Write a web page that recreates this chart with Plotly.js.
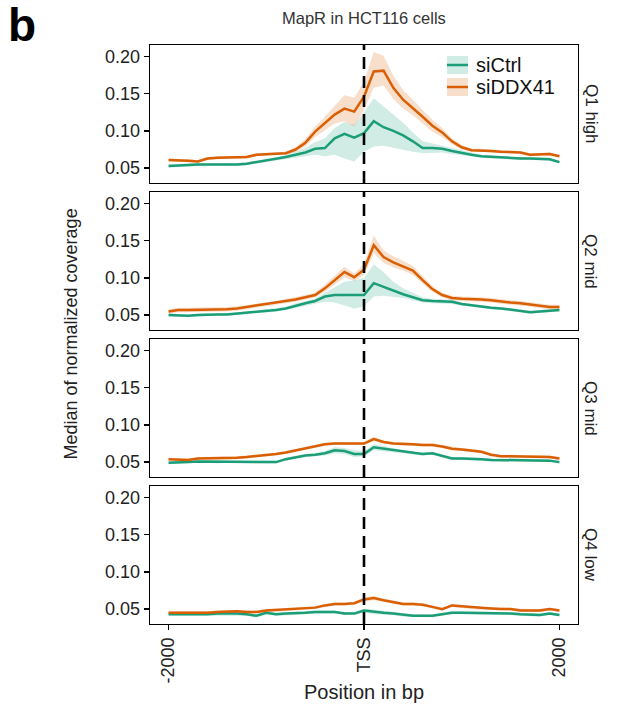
<!DOCTYPE html>
<html><head><meta charset="utf-8">
<script src="https://cdn.plot.ly/plotly-3.0.1.min.js"></script>
<style>html,body{margin:0;padding:0;background:#fff}</style>
</head><body><div id="chart" style="width:620px;height:711px"></div>
<script>
const positions = [-2000,-1900,-1800,-1700,-1600,-1500,-1400,-1300,-1200,-1100,-1000,-900,-800,-700,-600,-500,-400,-300,-200,-100,0,100,200,300,400,500,600,700,800,900,1000,1100,1200,1300,1400,1500,1600,1700,1800,1900,2000];
const panelLabels = ["Q1 high","Q2 mid","Q3 mid","Q4 low"];
const seriesNames = ["siCtrl","siDDX41"];
const xTickVals = [-2000,0,2000];
const xTickText = ["-2000","TSS","2000"];
const yTickVals = [0.05,0.10,0.15,0.20];

// Q1 high
const q1CtrlMean = [0.053,0.054,0.054,0.055,0.055,0.055,0.054,0.055,0.056,0.058,0.060,0.062,0.065,0.068,0.071,0.076,0.077,0.090,0.096,0.091,0.097,0.113,0.105,0.100,0.094,0.086,0.077,0.077,0.076,0.073,0.070,0.068,0.066,0.065,0.064,0.063,0.063,0.063,0.062,0.062,0.058];
const q1CtrlLow  = [0.051,0.052,0.052,0.053,0.053,0.053,0.052,0.053,0.054,0.056,0.058,0.060,0.062,0.064,0.066,0.068,0.066,0.068,0.063,0.059,0.072,0.079,0.080,0.077,0.074,0.072,0.070,0.071,0.071,0.069,0.067,0.065,0.064,0.063,0.062,0.061,0.061,0.061,0.060,0.060,0.056];
const q1CtrlHigh = [0.055,0.056,0.056,0.057,0.057,0.057,0.056,0.057,0.058,0.060,0.062,0.064,0.068,0.072,0.077,0.085,0.090,0.104,0.112,0.108,0.125,0.144,0.133,0.121,0.111,0.098,0.086,0.083,0.080,0.077,0.073,0.071,0.068,0.067,0.066,0.065,0.065,0.065,0.064,0.064,0.060];
const q1DdxMean  = [0.061,0.061,0.060,0.059,0.063,0.064,0.064,0.064,0.065,0.068,0.069,0.070,0.070,0.075,0.084,0.099,0.110,0.122,0.130,0.126,0.146,0.180,0.181,0.158,0.142,0.131,0.119,0.107,0.098,0.086,0.078,0.074,0.074,0.073,0.072,0.072,0.071,0.068,0.068,0.069,0.066];
const q1DdxLow   = [0.059,0.059,0.058,0.057,0.061,0.062,0.062,0.062,0.063,0.066,0.067,0.068,0.068,0.072,0.079,0.092,0.101,0.110,0.113,0.106,0.128,0.158,0.161,0.143,0.130,0.121,0.110,0.099,0.092,0.082,0.075,0.072,0.072,0.071,0.070,0.070,0.069,0.066,0.066,0.067,0.064];
const q1DdxHigh  = [0.063,0.063,0.062,0.061,0.065,0.066,0.066,0.066,0.067,0.070,0.071,0.072,0.072,0.078,0.089,0.106,0.119,0.134,0.148,0.145,0.166,0.206,0.201,0.174,0.155,0.142,0.128,0.115,0.104,0.090,0.081,0.076,0.076,0.075,0.074,0.074,0.073,0.070,0.070,0.071,0.068];

// Q2 mid
const q2CtrlMean = [0.050,0.049,0.049,0.050,0.051,0.051,0.051,0.052,0.053,0.054,0.056,0.057,0.059,0.063,0.066,0.069,0.075,0.077,0.077,0.077,0.077,0.093,0.088,0.082,0.078,0.074,0.070,0.069,0.069,0.068,0.065,0.063,0.061,0.060,0.059,0.057,0.055,0.054,0.055,0.056,0.057];
const q2CtrlLow  = [0.048,0.047,0.047,0.048,0.049,0.049,0.049,0.050,0.051,0.052,0.054,0.055,0.057,0.060,0.063,0.066,0.068,0.067,0.063,0.059,0.062,0.075,0.076,0.075,0.073,0.070,0.067,0.066,0.066,0.065,0.063,0.061,0.059,0.058,0.057,0.055,0.053,0.052,0.053,0.054,0.055];
const q2CtrlHigh = [0.052,0.051,0.051,0.052,0.053,0.053,0.053,0.054,0.055,0.056,0.058,0.059,0.061,0.066,0.069,0.072,0.080,0.088,0.095,0.097,0.100,0.118,0.108,0.095,0.086,0.080,0.074,0.072,0.072,0.071,0.067,0.065,0.063,0.062,0.061,0.059,0.057,0.056,0.057,0.058,0.059];
const q2DdxMean  = [0.055,0.057,0.057,0.057,0.057,0.057,0.058,0.059,0.061,0.062,0.064,0.066,0.069,0.071,0.074,0.077,0.086,0.097,0.108,0.101,0.111,0.144,0.128,0.121,0.116,0.110,0.097,0.085,0.077,0.073,0.072,0.072,0.071,0.070,0.068,0.067,0.066,0.064,0.063,0.061,0.061];
const q2DdxLow   = [0.052,0.054,0.054,0.054,0.054,0.054,0.055,0.056,0.058,0.059,0.061,0.063,0.066,0.068,0.071,0.074,0.081,0.091,0.101,0.096,0.104,0.133,0.120,0.114,0.110,0.104,0.092,0.081,0.074,0.070,0.069,0.069,0.068,0.067,0.065,0.064,0.063,0.061,0.060,0.058,0.058];
const q2DdxHigh  = [0.058,0.060,0.060,0.060,0.060,0.060,0.061,0.062,0.064,0.065,0.067,0.069,0.072,0.074,0.077,0.080,0.091,0.103,0.115,0.106,0.119,0.157,0.137,0.129,0.123,0.116,0.103,0.089,0.080,0.076,0.075,0.075,0.074,0.073,0.071,0.070,0.069,0.067,0.066,0.064,0.064];

// Q3 mid
const q3CtrlMean = [0.049,0.050,0.050,0.051,0.051,0.050,0.051,0.051,0.051,0.051,0.051,0.050,0.054,0.057,0.059,0.060,0.062,0.066,0.065,0.061,0.061,0.070,0.068,0.066,0.064,0.062,0.061,0.062,0.058,0.055,0.055,0.055,0.054,0.053,0.053,0.052,0.052,0.052,0.052,0.052,0.050];
const q3CtrlLow  = [0.047,0.048,0.048,0.049,0.049,0.048,0.049,0.049,0.049,0.049,0.049,0.048,0.052,0.055,0.057,0.058,0.059,0.062,0.061,0.057,0.058,0.066,0.065,0.063,0.062,0.060,0.059,0.060,0.056,0.053,0.053,0.053,0.052,0.051,0.051,0.050,0.050,0.050,0.050,0.050,0.048];
const q3CtrlHigh = [0.051,0.052,0.052,0.053,0.053,0.052,0.053,0.053,0.053,0.053,0.053,0.052,0.056,0.059,0.061,0.062,0.065,0.070,0.069,0.066,0.065,0.074,0.071,0.069,0.066,0.064,0.063,0.064,0.060,0.057,0.057,0.057,0.056,0.055,0.055,0.054,0.054,0.054,0.054,0.054,0.052];
const q3DdxMean  = [0.054,0.053,0.053,0.055,0.055,0.055,0.055,0.056,0.057,0.058,0.059,0.061,0.063,0.066,0.068,0.071,0.074,0.075,0.075,0.075,0.075,0.081,0.077,0.075,0.074,0.074,0.073,0.073,0.071,0.068,0.067,0.066,0.064,0.060,0.058,0.058,0.058,0.058,0.057,0.057,0.055];
const q3DdxLow   = [0.052,0.051,0.051,0.053,0.053,0.053,0.053,0.054,0.055,0.056,0.057,0.059,0.061,0.064,0.066,0.069,0.072,0.073,0.073,0.073,0.073,0.078,0.075,0.073,0.072,0.072,0.071,0.071,0.069,0.066,0.065,0.064,0.062,0.058,0.056,0.056,0.056,0.056,0.055,0.055,0.053];
const q3DdxHigh  = [0.056,0.055,0.055,0.057,0.057,0.057,0.057,0.058,0.059,0.060,0.061,0.063,0.065,0.068,0.070,0.073,0.076,0.077,0.077,0.077,0.077,0.084,0.079,0.077,0.076,0.076,0.075,0.075,0.073,0.070,0.069,0.068,0.066,0.062,0.060,0.060,0.060,0.060,0.059,0.059,0.057];

// Q4 low
const q4CtrlMean = [0.043,0.043,0.043,0.043,0.043,0.044,0.044,0.044,0.043,0.041,0.045,0.043,0.044,0.044,0.045,0.046,0.046,0.046,0.044,0.044,0.048,0.046,0.045,0.044,0.042,0.041,0.041,0.041,0.043,0.045,0.045,0.045,0.044,0.045,0.045,0.044,0.043,0.042,0.042,0.044,0.042];
const q4CtrlLow  = [0.041,0.041,0.041,0.041,0.041,0.042,0.042,0.042,0.041,0.039,0.043,0.041,0.042,0.042,0.043,0.044,0.044,0.044,0.042,0.042,0.045,0.043,0.043,0.042,0.040,0.039,0.039,0.039,0.041,0.043,0.043,0.043,0.042,0.043,0.043,0.042,0.041,0.040,0.040,0.042,0.040];
const q4CtrlHigh = [0.045,0.045,0.045,0.045,0.045,0.046,0.046,0.046,0.045,0.043,0.047,0.045,0.046,0.046,0.047,0.048,0.048,0.048,0.046,0.046,0.051,0.049,0.047,0.046,0.044,0.043,0.043,0.043,0.045,0.047,0.047,0.047,0.046,0.047,0.047,0.046,0.045,0.044,0.044,0.046,0.044];
const q4DdxMean  = [0.045,0.045,0.044,0.045,0.045,0.046,0.047,0.047,0.046,0.046,0.048,0.049,0.049,0.050,0.051,0.052,0.055,0.057,0.057,0.058,0.063,0.065,0.062,0.059,0.057,0.057,0.056,0.053,0.050,0.055,0.054,0.052,0.051,0.051,0.050,0.050,0.048,0.048,0.048,0.050,0.048];
const q4DdxLow   = [0.043,0.043,0.042,0.043,0.043,0.044,0.045,0.045,0.044,0.044,0.046,0.047,0.047,0.048,0.049,0.050,0.053,0.055,0.055,0.056,0.060,0.062,0.060,0.057,0.055,0.055,0.054,0.051,0.048,0.053,0.052,0.050,0.049,0.049,0.048,0.048,0.046,0.046,0.046,0.048,0.046];
const q4DdxHigh  = [0.047,0.047,0.046,0.047,0.047,0.048,0.049,0.049,0.048,0.048,0.050,0.051,0.051,0.052,0.053,0.054,0.057,0.059,0.059,0.060,0.066,0.068,0.064,0.061,0.059,0.059,0.058,0.055,0.052,0.057,0.056,0.054,0.053,0.053,0.052,0.052,0.050,0.050,0.050,0.052,0.050];

const panels = [
  {ctrl:[q1CtrlMean,q1CtrlLow,q1CtrlHigh], ddx:[q1DdxMean,q1DdxLow,q1DdxHigh]},
  {ctrl:[q2CtrlMean,q2CtrlLow,q2CtrlHigh], ddx:[q2DdxMean,q2DdxLow,q2DdxHigh]},
  {ctrl:[q3CtrlMean,q3CtrlLow,q3CtrlHigh], ddx:[q3DdxMean,q3DdxLow,q3DdxHigh]},
  {ctrl:[q4CtrlMean,q4CtrlLow,q4CtrlHigh], ddx:[q4DdxMean,q4DdxLow,q4DdxHigh]}
];

const colors = ["#1B9E77","#D95F02"];
const fills = ["rgba(27,158,119,0.2)","rgba(217,95,2,0.2)"];
const FONT = "Liberation Sans, Arial, Helvetica, sans-serif";

// layout geometry (pixels)
const W=620,H=711, L=150,R=42,T=45,B=87;
const plotH = H-T-B, plotW = W-L-R;
const panH = 138, gap = (plotH-4*panH)/3;

const traces = [];
const layout = {
  width:W, height:H, margin:{l:L,r:R,t:T,b:B},
  paper_bgcolor:"#fff", plot_bgcolor:"#fff",
  showlegend:false, font:{family:FONT, color:"#222"},
  shapes:[], annotations:[]
};

panels.forEach((p,i)=>{
  const k = i+1;
  const xa = k===1?"x":"x"+k, ya = k===1?"y":"y"+k;
  const topPx = i*(panH+gap);
  const d1 = 1 - topPx/plotH, d0 = 1 - (topPx+panH)/plotH;
  [p.ctrl,p.ddx].forEach((s,j)=>{
    traces.push({x:positions,y:s[1],xaxis:xa,yaxis:ya,mode:"lines",line:{width:0,color:fills[j]},hoverinfo:"skip"});
    traces.push({x:positions,y:s[2],xaxis:xa,yaxis:ya,mode:"lines",fill:"tonexty",fillcolor:fills[j],line:{width:0,color:fills[j]},hoverinfo:"skip"});
  });
  [p.ctrl,p.ddx].forEach((s,j)=>{
    traces.push({x:positions,y:s[0],xaxis:xa,yaxis:ya,mode:"lines",name:seriesNames[j],line:{width:2.5,color:colors[j]}});
  });
  const last = k===4;
  layout["xaxis"+(k===1?"":k)] = {
    anchor:ya, range:[-2190,2190], showgrid:false, zeroline:false,
    showline:true, mirror:true, linecolor:"#000", linewidth:1.3,
    tickvals:xTickVals, ticktext:xTickText, showticklabels:last,
    ticks:last?"outside":"", ticklen:5, tickwidth:1.3, tickcolor:"#000",
    tickangle:-90, tickfont:{size:18,color:"#222",family:FONT}
  };
  layout["yaxis"+(k===1?"":k)] = {
    anchor:xa, domain:[d0,d1], range:[0.030,0.2155], showgrid:false, zeroline:false,
    showline:true, mirror:true, linecolor:"#000", linewidth:1.3,
    tickvals:yTickVals, tickformat:".2f", ticks:"outside", ticklen:5, tickwidth:1.3, tickcolor:"#000",
    tickfont:{size:18,color:"#222",family:FONT}
  };
  layout.shapes.push({type:"line", xref:xa, yref:ya+" domain", x0:0,x1:0,y0:0,y1:1,
    line:{color:"#000",width:2.6,dash:"12px,7px"}});
  layout.annotations.push({text:panelLabels[i], xref:"paper", yref:"paper", x:1, y:(d0+d1)/2,
    xanchor:"center", yanchor:"middle", xshift:13, textangle:90, showarrow:false,
    font:{size:17,color:"#222",family:FONT}});
});

// legend (drawn inside panel 1)
const px2x = v => (v-L)/plotW, px2y = v => 1-(v-T)/plotH;
[65,87].forEach((cy,j)=>{
  layout.shapes.push({type:"rect", xref:"paper", yref:"paper", x0:px2x(447), x1:px2x(468), y0:px2y(cy-9), y1:px2y(cy+9),
    fillcolor:fills[j], line:{width:0}});
  layout.shapes.push({type:"line", xref:"paper", yref:"paper", x0:px2x(447), x1:px2x(468), y0:px2y(cy), y1:px2y(cy),
    line:{color:colors[j], width:2.5}});
  layout.annotations.push({text:seriesNames[j], xref:"paper", yref:"paper", x:px2x(474), y:px2y(cy),
    xanchor:"left", yanchor:"middle", showarrow:false, font:{size:20,color:"#111",family:FONT}});
});

layout.annotations.push({text:"MapR in HCT116 cells", xref:"paper", yref:"paper", x:0.5, y:1,
  yanchor:"bottom", yshift:16, showarrow:false, font:{size:16.5,color:"#333",family:FONT}});
layout.annotations.push({text:"<b>b</b>", xref:"paper", yref:"paper", x:-L/plotW, y:1, xanchor:"left", yanchor:"bottom",
  xshift:6, yshift:-8, showarrow:false, font:{size:46,color:"#000",family:FONT}});
layout.annotations.push({text:"Median of normalized coverage", xref:"paper", yref:"paper", x:0, y:0.5,
  xanchor:"center", yanchor:"middle", xshift:-80, textangle:-90, showarrow:false, font:{size:18,color:"#222",family:FONT}});
layout.annotations.push({text:"Position in bp", xref:"paper", yref:"paper", x:0.5, y:0,
  xanchor:"center", yanchor:"middle", yshift:-68, showarrow:false, font:{size:20,color:"#222",family:FONT}});

Plotly.newPlot("chart", traces, layout, {staticPlot:true, displayModeBar:false});
</script></body></html>
